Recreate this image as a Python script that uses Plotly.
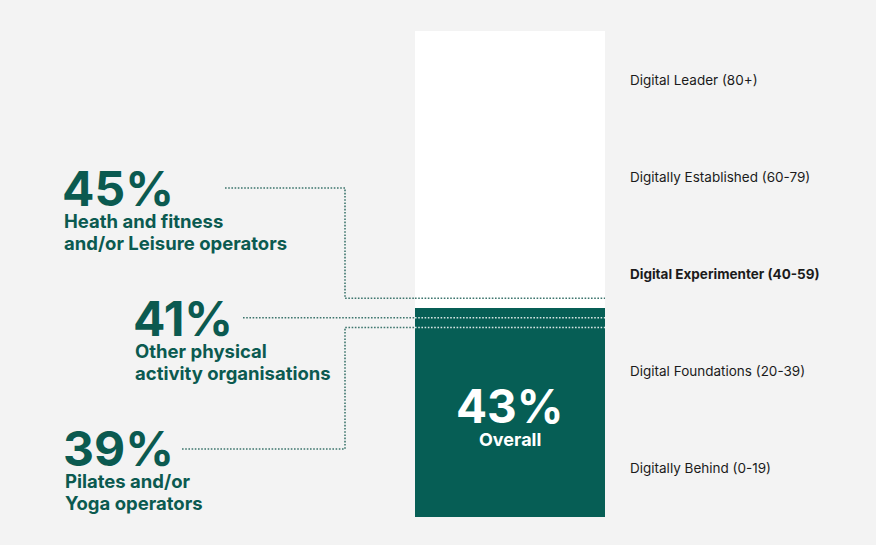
import plotly.graph_objects as go

# Data
overall = 43
segments = ["Heath and fitness<br>and/or Leisure operators",
            "Other physical<br>activity organisations",
            "Pilates and/or<br>Yoga operators"]
segment_values = [45, 41, 39]
bands = ["Digitally Behind (0-19)", "Digital Foundations (20-39)",
         "Digital Experimenter (40-59)", "Digitally Established (60-79)",
         "Digital Leader (80+)"]
band_mid = [10, 30, 50, 70, 90]
scale_max = 100

# Style
BG = "#f3f3f3"
GREEN = "#065e55"
TEXT_GREEN = "#0b5a50"
DOT = "#3d756d"
FONT = "Inter"
W, H = 876, 545
BAR_X, BAR_W = 510, 190

# pixel -> data helpers for the y axis (0 at y=517px, 100 at y=31px)
Y0_PX, Y100_PX = 517, 31
k = (Y0_PX - Y100_PX) / scale_max
y_top = Y0_PX / k
y_bot = -(H - Y0_PX) / k


def py(p):
    return (Y0_PX - p) / k


fig = go.Figure()

fig.add_trace(go.Bar(x=[BAR_X], y=[scale_max], width=[BAR_W], marker_color="white",
                     marker_line_width=0, hoverinfo="skip"))
fig.add_trace(go.Bar(x=[BAR_X], y=[overall], width=[BAR_W], marker_color=GREEN,
                     marker_line_width=0, hoverinfo="skip"))

# connector lines: (label end x, elbow x or None, label y px)
connectors = [(225, 345, 188), (243, None, None), (182, 345, 449)]
bar_left, bar_right = BAR_X - BAR_W / 2, BAR_X + BAR_W / 2
for (x0, elbow, ypx), v in zip(connectors, segment_values):
    if elbow is None:
        xs, ys = [x0, bar_left], [v, v]
    else:
        xs, ys = [x0, elbow, elbow, bar_left], [py(ypx), py(ypx), v, v]
    fig.add_trace(go.Scatter(x=xs, y=ys, mode="lines", hoverinfo="skip",
                             line=dict(color=DOT, width=1.6, dash="1.6px,1.6px")))
    col = "rgba(255,255,255,0.85)" if v < overall else DOT
    fig.add_trace(go.Scatter(x=[bar_left, bar_right], y=[v, v], mode="lines", hoverinfo="skip",
                             line=dict(color=col, width=1.6, dash="1.6px,1.6px")))

annotations = []

# left labels: (x left, baseline of big number px)
label_pos = [(60, 210), (131, 340), (61, 470)]
for (lx, base), v, name in zip(label_pos, segment_values, segments):
    annotations.append(dict(x=lx, y=py(base + 10), text=f"<b>{v}%</b>", xanchor="left", yanchor="bottom",
                            showarrow=False, font=dict(family=FONT, size=48, color=TEXT_GREEN)))
for (lx, base), name in zip(label_pos, segments):
    for i, line in enumerate(name.split("<br>")):
        annotations.append(dict(x=lx + 2, y=py(base - 3 + 22 * (i + 1) + 5), text=f"<b>{line}</b>",
                                xanchor="left", yanchor="bottom", showarrow=False,
                                font=dict(family=FONT, size=18.5, color=TEXT_GREEN)))

# overall label
annotations.append(dict(x=BAR_X, y=py(436), text=f"<b>{overall}%</b>", xanchor="center", yanchor="bottom",
                        showarrow=False, font=dict(family=FONT, size=46, color="white")))
annotations.append(dict(x=BAR_X, y=py(452), text="<b>Overall</b>", xanchor="center", yanchor="bottom",
                        showarrow=False, font=dict(family=FONT, size=18, color="white")))

# band labels on the right
for name, mid in zip(bands, band_mid):
    txt = f"<b>{name}</b>" if mid == 50 else name
    annotations.append(dict(x=628, y=mid, text=txt, xanchor="left", yanchor="middle",
                            showarrow=False, font=dict(family=FONT, size=13.5, color="#1b1b1b")))

fig.update_layout(
    width=W, height=H,
    margin=dict(l=0, r=0, t=0, b=0),
    paper_bgcolor=BG, plot_bgcolor=BG,
    barmode="overlay", showlegend=False,
    xaxis=dict(range=[0, W], visible=False, fixedrange=True),
    yaxis=dict(range=[y_bot, y_top], visible=False, fixedrange=True),
    annotations=annotations,
)

fig.write_html("out.html", config={"displayModeBar": False},
               post_script="document.body.style.margin='0';document.body.style.background='#f3f3f3';")
